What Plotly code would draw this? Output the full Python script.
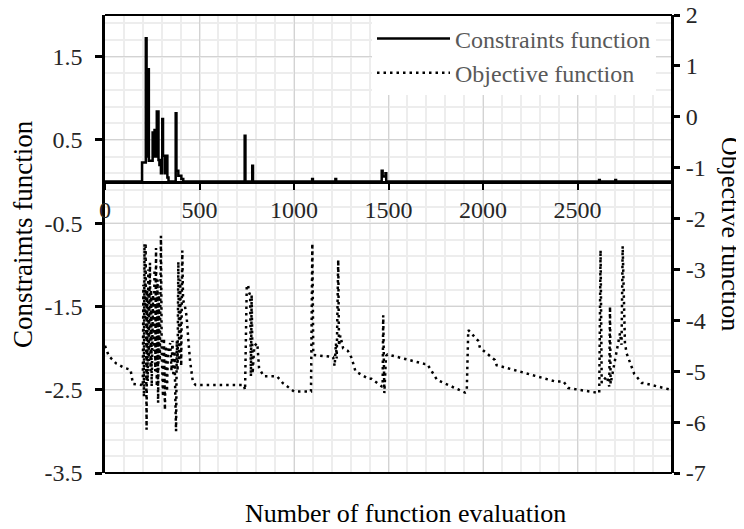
import plotly.graph_objects as go

# ---------------- data ----------------
eval_ticks = [0, 500, 1000, 1500, 2000, 2500]
cons_ticks = [-3.5, -2.5, -1.5, -0.5, 0.5, 1.5]
cons_tick_text = ["-3.5", "-2.5", "-1.5", "-0.5", "0.5", "1.5"]
obj_ticks = [-7, -6, -5, -4, -3, -2, -1, 0, 1, 2]
obj_tick_text = ["-7", "-6", "-5", "-4", "-3", "-2", "-1", "0", "1", "2"]

# Constraints function (step values)
cons_x = [0, 196, 216, 220, 224, 228, 232, 252, 256, 262, 270, 274, 279, 283, 288, 292, 296, 303,
          307, 312, 318, 322, 330, 336, 374, 378, 383, 388, 397, 404, 414, 739, 743, 779, 783,
          1096, 1100, 1219, 1223, 1464, 1469, 1484, 1488, 2614, 2618, 2700, 2704, 3000]
cons_y = [0, 0.23, 1.72, 0.3, 1.35, 1.35, 0.25, 0.59, 0.3, 0.62, 0.3, 0.84, 0.84, 0.26, 0.2, 0.26, 0.1, 0.75,
          0.31, 0.31, 0.1, 0.31, 0.05, 0, 0.82, 0.13, 0.13, 0.07, 0.07, 0.03, 0, 0.55, 0, 0.19, 0,
          0.03, 0, 0.03, 0, 0.13, 0.06, 0.1, 0, 0.02, 0, 0.02, 0, 0]

# Objective function
obj_x = [0, 20, 60, 100, 135, 148, 195,
         200, 203, 206, 209, 212, 215, 218, 220, 223, 226, 229, 232, 235, 238, 241, 244, 247, 250,
         254, 258, 262, 266, 270, 274, 278, 281, 285, 290, 296, 300, 307, 312, 317, 322, 328, 333,
         345, 352, 357, 362, 368, 372, 376, 380, 384, 388, 393, 398, 403, 409, 413, 422, 432, 441,
         450, 465, 480, 735, 741, 750, 757, 762, 768, 772, 776, 781, 790, 806, 815, 840, 910, 940,
         1000, 1090, 1097, 1102, 1207, 1215, 1222, 1226, 1234, 1238, 1245, 1260, 1285, 1305, 1325,
         1395, 1410, 1465, 1469, 1472, 1478, 1487, 1495, 1693, 1705, 1757, 1878, 1905, 1914, 1922,
         1974, 1984, 2063, 2072, 2381, 2425, 2451, 2600, 2615, 2622, 2628, 2655, 2665, 2668, 2672,
         2675, 2725, 2733, 2739, 2751, 2760, 2800, 2840, 2848, 3000]
obj_y = [-4.5, -4.7, -4.85, -4.93, -4.97, -5.25, -5.27,
         -5.3, -3.3, -5.5, -2.5, -4.0, -2.48, -5.8, -6.15, -3.4, -5.2, -3.0, -4.8, -3.5, -2.87, -5.0, -3.4, -5.3, -4.2,
         -3.5, -4.6, -3.0, -5.0, -2.58, -5.3, -3.2, -5.62, -3.5, -4.8, -2.34, -4.6, -5.5, -4.35, -5.76, -4.5, -5.4, -4.6,
         -4.45, -5.0, -4.4, -5.1, -4.6, -5.5, -6.18, -4.4, -5.0, -2.85, -4.8, -3.2, -4.9, -2.63, -3.6, -3.7, -3.93, -4.39,
         -4.79, -5.22, -5.27, -5.27, -5.37, -3.34, -3.3, -3.45, -3.5, -5.1, -3.5, -5.05, -4.5, -4.45, -4.94, -5.1, -5.1, -5.23,
         -5.4, -5.4, -2.49, -4.68, -4.72, -4.9, -4.45, -4.75, -2.81, -4.5, -4.3, -4.55, -4.6, -4.74, -5.0, -5.15,
         -5.15, -5.3, -5.3, -3.9, -5.43, -4.7, -4.67, -4.86, -4.86, -5.17, -5.38, -5.42, -5.4, -4.19, -4.4,
         -4.54, -4.78, -4.88, -5.2, -5.2, -5.33, -5.43, -5.43, -2.62, -5.23, -5.1, -5.25, -5.3, -3.73, -5.25,
         -4.25, -4.48, -2.54, -4.45, -4.65, -5.05, -5.23, -5.23, -5.37, -5.4]

FONT = "Liberation Serif"

fig = go.Figure()
fig.add_trace(go.Scatter(x=cons_x, y=cons_y, mode="lines", name="Constraints function",
                         line=dict(color="black", width=2.5, shape="hv"), yaxis="y"))
fig.add_trace(go.Scatter(x=obj_x, y=obj_y, mode="lines", name="Objective function",
                         line=dict(color="black", width=2.5, dash="2.5px,4px"), yaxis="y2"))

cross = 3.5 / 5.5  # y = 0 on the left axis, as fraction of plot height
PW, PH = 567, 458   # plot area size in px (left 105, top 15 on screen)

fig.update_layout(
    width=736, height=521,
    margin=dict(l=97, r=72, t=7, b=56, autoexpand=False),
    paper_bgcolor="white", plot_bgcolor="white",
    font=dict(family=FONT, size=24, color="#262626"),
    showlegend=True,
    legend=dict(x=(372 - 105) / PW, y=0.997, xanchor="left", yanchor="top", bgcolor="white",
                font=dict(family=FONT, size=24, color="#595959"),
                itemwidth=73, tracegroupgap=0),
    xaxis=dict(range=[0, 3000], anchor="free", position=cross, side="bottom", automargin=False,
               tickmode="array", tickvals=eval_ticks, ticklabeloverflow="allow",
               ticks="outside", ticklen=6, tickwidth=2, tickcolor="black",
               showline=True, linecolor="black", linewidth=3,
               showgrid=True, gridcolor="#d3d3d3", gridwidth=1, zeroline=False,
               minor=dict(tickmode="linear", tick0=0, dtick=100, showgrid=True,
                          gridcolor="#ededed", gridwidth=2, ticks=""),
               tickfont=dict(family=FONT, size=24, color="#262626")),
    yaxis=dict(range=[-3.5, 2], tickmode="array", tickvals=cons_ticks, ticktext=cons_tick_text,
               automargin=False, ticklabeloverflow="allow",
               ticks="outside", ticklen=7, tickwidth=2.5, tickcolor="black",
               showline=True, linecolor="black", linewidth=2.5,
               showgrid=True, gridcolor="#d3d3d3", gridwidth=1, zeroline=False,
               minor=dict(tickmode="linear", tick0=-3.5, dtick=0.2, showgrid=True,
                          gridcolor="#ededed", gridwidth=2, ticks=""),
               ticklabelstandoff=8,
               tickfont=dict(family=FONT, size=24, color="#262626")),
    yaxis2=dict(range=[-7, 2], overlaying="y", side="right", anchor="free", position=1,
                automargin=False, ticklabeloverflow="allow",
                tickmode="array", tickvals=obj_ticks, ticktext=obj_tick_text,
                ticks="outside", ticklen=6, tickwidth=2.5, tickcolor="black",
                showline=True, linecolor="black", linewidth=3,
                showgrid=False, zeroline=False, ticklabelstandoff=1,
                tickfont=dict(family=FONT, size=24, color="#262626")),
    shapes=[
        dict(type="line", xref="paper", yref="paper", x0=0, x1=1, y0=1, y1=1,
             line=dict(color="black", width=2)),
        dict(type="line", xref="paper", yref="paper", x0=0, x1=1, y0=0, y1=0,
             line=dict(color="black", width=2)),
    ],
    annotations=[
        dict(text="Number of function evaluation", xref="paper", yref="paper",
             x=(405 - 105) / PW, y=-(514 - 473) / PH, xanchor="center", yanchor="middle",
             showarrow=False, font=dict(family=FONT, size=26, color="black")),
        dict(text="Constraimts function", xref="paper", yref="paper",
             x=-(105 - 23) / PW, y=(473 - 234) / PH, xanchor="center", yanchor="middle",
             textangle=-90, showarrow=False, font=dict(family=FONT, size=27, color="black")),
        dict(text="Objective function", xref="paper", yref="paper",
             x=1 + (730 - 672) / PW, y=(473 - 234) / PH, xanchor="center", yanchor="middle",
             textangle=90, showarrow=False, font=dict(family=FONT, size=26, color="black")),
    ],
)

fig.write_html("out.html")
